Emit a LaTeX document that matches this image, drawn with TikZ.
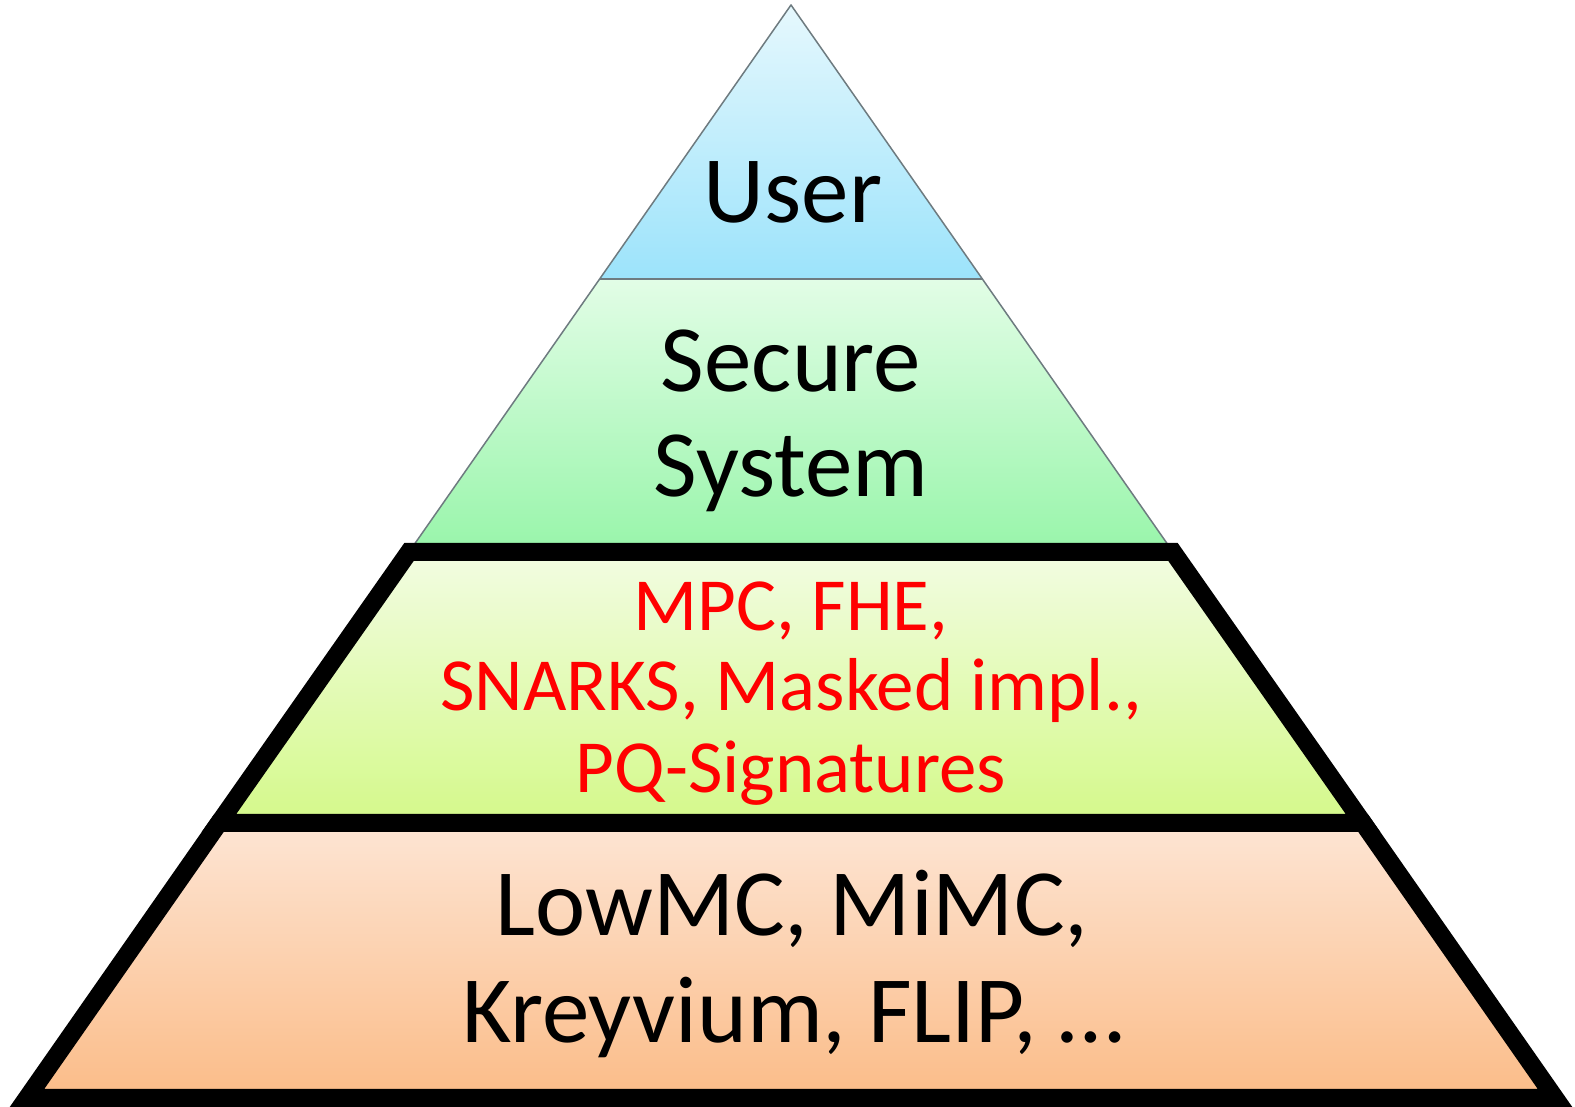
\documentclass[tikz,border=0pt]{standalone}
\usepackage{fontspec}
\setmainfont{Carlito}
\definecolor{edgegray}{HTML}{6E7B80}
\definecolor{userTop}{HTML}{E6F8FD}
\definecolor{userBot}{HTML}{9CE3FB}
\definecolor{secTop}{HTML}{E2FDE6}
\definecolor{secBot}{HTML}{98F5AA}
\definecolor{midTop}{HTML}{F2FCE2}
\definecolor{midBot}{HTML}{D4F98A}
\definecolor{lowTop}{HTML}{FDE5D4}
\definecolor{lowBot}{HTML}{FBBC88}
\definecolor{redtext}{HTML}{FF0000}
\tikzset{
  thinedge/.style={draw=edgegray, line width=1.5pt, line join=round},
  thickedge/.style={draw=black, line width=18pt, line join=miter},
  bigtext/.style={font=\fontsize{95}{105}\selectfont, text=black, anchor=base, inner sep=0pt},
  redlabel/.style={font=\fontsize{75}{80}\selectfont, text=redtext, anchor=base, inner sep=0pt},
}
\begin{document}
\begin{tikzpicture}[x=1pt,y=1pt]
\useasboundingbox (0,0) rectangle (1575,1107);
\clip (0,0) rectangle (1575,1107);
% coordinates
\coordinate (apex) at (791,1102);
\coordinate (uL) at (599.5,828);
\coordinate (uR) at (982.5,828);
\coordinate (sL) at (409,555);
\coordinate (sR) at (1173,555);
\coordinate (mL) at (219,284);
\coordinate (mR) at (1363,284);
\coordinate (bL) at (27,9);
\coordinate (bR) at (1555,9);
% User
\path[top color=userTop, bottom color=userBot] (apex) -- (uR) -- (uL) -- cycle;
% Secure system
\path[top color=secTop, bottom color=secBot] (uL) -- (uR) -- (sR) -- (sL) -- cycle;
\draw[thinedge] (sL) -- (apex) -- (sR);
\draw[thinedge] (uL) -- (uR);
% Bottom layer
\path[top color=lowTop, bottom color=lowBot] (mL) -- (mR) -- (bR) -- (bL) -- cycle;
\draw[thickedge] (mL) -- (mR) -- (bR) -- (bL) -- cycle;
% Middle layer
\path[top color=midTop, bottom color=midBot] (sL) -- (sR) -- (mR) -- (mL) -- cycle;
\draw[thickedge] (sL) -- (sR) -- (mR) -- (mL) -- cycle;
% Texts
\node[bigtext] (user) at (793,884) {User};
\node[bigtext] (secure) at (791,715) {Secure};
\node[bigtext] (system) at (791,610) {System};
\node[redlabel] (mpc) at (791,476) {MPC, FHE,};
\node[redlabel] (snarks) at (791,396) {SNARKS, Masked impl.,};
\node[redlabel] (pq) at (791,314) {PQ-Signatures};
\node[bigtext] (lowmc) at (792,171) {LowMC, MiMC,};
\node[bigtext] (krey) at (793,64) {Kreyvium, FLIP, …};
\end{tikzpicture}
\end{document}
